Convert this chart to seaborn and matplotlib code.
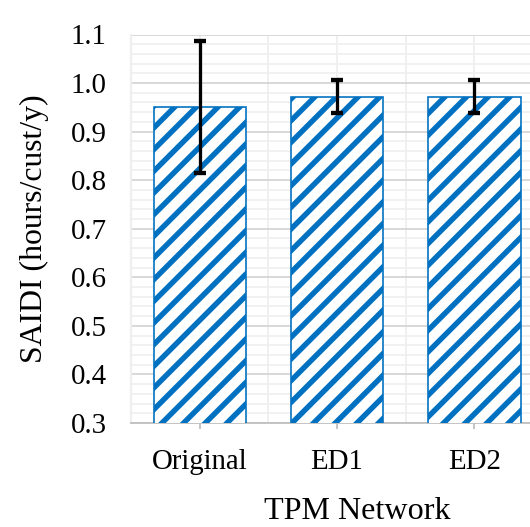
import matplotlib
matplotlib.use("Agg")
import matplotlib.pyplot as plt
import seaborn as sns
import pandas as pd
from matplotlib.ticker import MultipleLocator, FormatStrFormatter

# SAIDI results for the TPM network variants
networks = ["Original", "ED1", "ED2"]
saidi = [0.951, 0.972, 0.972]
saidi_err = [0.136, 0.034, 0.034]

BLUE = "#0070C0"

sns.set_theme(style="white")
plt.rcParams["font.family"] = ["Liberation Serif", "DejaVu Serif"]
plt.rcParams["hatch.linewidth"] = 3.0
plt.rcParams["hatch.color"] = BLUE

DPI = 130
fig = plt.figure(figsize=(530 / DPI, 527 / DPI), dpi=DPI)
ax = fig.add_axes([131 / 530, 1 - 423 / 527, (530 - 131) / 530, (423 - 34.5) / 527])

df = pd.DataFrame({"network": networks, "saidi": saidi})
sns.barplot(data=df, x="network", y="saidi", ax=ax, color="white",
            saturation=1, width=0.67, edgecolor=BLUE, linewidth=0.9,
            hatch="//", errorbar=None, zorder=3)

ax.errorbar(range(len(networks)), saidi, yerr=saidi_err, fmt="none",
            ecolor="black", elinewidth=1.8, capsize=3.5, capthick=2.4,
            zorder=4)

ax.set_xlim(-0.5, 2.404)
ax.set_ylim(0.3, 1.1)
ax.yaxis.set_major_locator(MultipleLocator(0.1))
ax.yaxis.set_minor_locator(MultipleLocator(0.02))
ax.yaxis.set_major_formatter(FormatStrFormatter("%.1f"))
ax.set_xticks([0.5, 1.5], minor=True)

ax.set_axisbelow(True)
ax.grid(which="major", axis="y", color="#d6d6d6", lw=1.0)
ax.grid(which="minor", axis="y", color="#f0f0f0", lw=1.0)
ax.grid(which="both", axis="x", color="#efefef", lw=1.0)

for side in ["top", "right"]:
    ax.spines[side].set_visible(False)
ax.spines["left"].set_color("#efefef")
ax.spines["bottom"].set_color("#bfbfbf")
ax.spines["bottom"].set_linewidth(1.0)

ax.tick_params(axis="y", which="both", length=0, pad=13.5, labelsize=16, colors="black")
ax.tick_params(axis="x", which="major", length=3.5, width=1, color="#bfbfbf",
               pad=11, labelsize=16, labelcolor="black", direction="out", bottom=True)
ax.tick_params(axis="x", which="minor", length=0)

ax.set_xlabel("TPM Network", fontsize=17.8, color="black")
ax.xaxis.set_label_coords(0.566, -0.19)
ax.set_ylabel("SAIDI (hours/cust/y)", fontsize=17.6, color="black", labelpad=12)

fig.savefig("out.png", dpi=DPI)
